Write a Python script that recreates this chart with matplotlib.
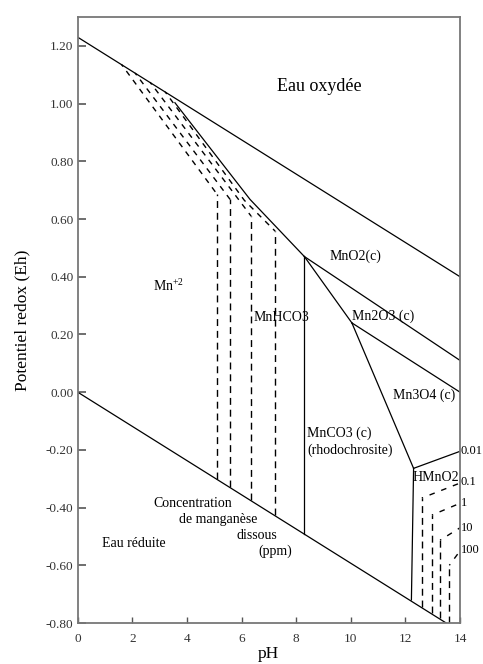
import matplotlib
import matplotlib.pyplot as plt

matplotlib.use("Agg")

plt.rcParams["font.family"] = ["Liberation Serif", "DejaVu Serif"]
plt.rcParams["mathtext.fontset"] = "custom"
plt.rcParams["mathtext.rm"] = "Liberation Serif"

# water stability limits
water_ph = [0, 14]
upper_eh = [1.23, 0.40]
lower_eh = [0.0, -0.83]

# solid phase boundaries (pH, Eh)
mno2_ph = [3.56, 6.31, 8.3]
mno2_eh = [1.003, 0.668, 0.47]
mnco3_left_ph = [8.3, 8.3]
mnco3_left_eh = [0.47, -0.49]
mno2_mn2o3_ph = [8.3, 14]
mno2_mn2o3_eh = [0.47, 0.11]
mnco3_mn2o3_ph = [8.3, 10.04]
mnco3_mn2o3_eh = [0.47, 0.24]
mn2o3_mn3o4_ph = [10.04, 14]
mn2o3_mn3o4_eh = [0.24, 0.0]
mnco3_mn3o4_ph = [10.04, 12.3]
mnco3_mn3o4_eh = [0.24, -0.264]
hmno2_top_ph = [12.3, 14]
hmno2_top_eh = [-0.264, -0.205]
hmno2_left_ph = [12.3, 12.22]
hmno2_left_eh = [-0.264, -0.72]

# dissolved Mn2+ concentration contours (dashed)
mn2_diag = [
    ([1.6, 5.11], [1.136, 0.685]),
    ([2.1, 5.58], [1.106, 0.668]),
    ([2.65, 6.35], [1.074, 0.61]),
    ([3.2, 6.1, 7.23], [1.041, 0.665, 0.558]),
]
mn2_vert_ph = [5.11, 5.58, 6.35, 7.23]
mn2_vert_top = [0.685, 0.668, 0.61, 0.558]
mn2_vert_bot = [-0.30, -0.33, -0.375, -0.427]

# HMnO2- concentration contours (dashed)
hm_vert_ph = [12.6, 12.97, 13.27, 13.61]
hm_vert_top = [-0.367, -0.426, -0.513, -0.60]
hm_vert_bot = [-0.743, -0.765, -0.783, -0.80]
hm_edge_eh = [-0.315, -0.385, -0.47, -0.55]

conc_labels = ["0.01", "0.1", "1", "10", "100"]
conc_label_eh = [-0.205, -0.31, -0.385, -0.472, -0.548]

fig = plt.figure(figsize=(4.83, 6.64), dpi=100)
ax = fig.add_axes([0.1609, 0.0617, 0.7915, 0.9127])

LW = 0.9
DASH = (0, (5, 3.5))

ax.plot(water_ph, upper_eh, color="black", lw=LW)
ax.plot(water_ph, lower_eh, color="black", lw=LW)
for xs, ys in [
    (mno2_ph, mno2_eh),
    (mnco3_left_ph, mnco3_left_eh),
    (mno2_mn2o3_ph, mno2_mn2o3_eh),
    (mnco3_mn2o3_ph, mnco3_mn2o3_eh),
    (mn2o3_mn3o4_ph, mn2o3_mn3o4_eh),
    (mnco3_mn3o4_ph, mnco3_mn3o4_eh),
    (hmno2_top_ph, hmno2_top_eh),
    (hmno2_left_ph, hmno2_left_eh),
]:
    ax.plot(xs, ys, color="black", lw=LW)

for xs, ys in mn2_diag:
    ax.plot(xs, ys, color="black", lw=1.0, linestyle=(2, (4, 4)))
for p, top, bot in zip(mn2_vert_ph, mn2_vert_top, mn2_vert_bot):
    ax.plot([p, p], [bot, top], color="black", lw=1.0, linestyle=DASH)

for p, top, bot, edge in zip(hm_vert_ph, hm_vert_top, hm_vert_bot, hm_edge_eh):
    ax.plot([p, p], [bot, top], color="black", lw=1.0, linestyle=DASH)
    ax.plot([p, 14], [top, edge], color="black", lw=1.0, linestyle=(3, (4, 5)))

for lab, e in zip(conc_labels, conc_label_eh):
    ax.text(14.03, e, lab, fontsize=9, ha="left", va="center", clip_on=False)

# region labels
ax.text(8.83, 1.06, "Eau oxydée", fontsize=13, ha="center", va="center")
ax.text(2.76, 0.37, r"Mn$^{+2}$", fontsize=10, ha="left", va="center")
ax.text(6.43, 0.258, "MnHCO3", fontsize=10, ha="left", va="center")
ax.text(9.24, 0.47, "MnO2(c)", fontsize=10, ha="left", va="center")
ax.text(10.05, 0.262, "Mn2O3 (c)", fontsize=10, ha="left", va="center")
ax.text(11.55, -0.01, "Mn3O4 (c)", fontsize=10, ha="left", va="center")
ax.text(8.4, -0.142, "MnCO3 (c)", fontsize=10, ha="left", va="center")
ax.text(8.4, -0.20, "(rhodochrosite)", fontsize=10, ha="left", va="center")
ax.text(12.25, -0.295, "HMnO2", fontsize=10, ha="left", va="center")
ax.text(4.2, -0.385, "Concentration", fontsize=10, ha="center", va="center")
ax.text(5.15, -0.44, "de manganèse", fontsize=10, ha="center", va="center")
ax.text(6.57, -0.496, "dissous", fontsize=10, ha="center", va="center")
ax.text(7.23, -0.55, "(ppm)", fontsize=10, ha="center", va="center")
ax.text(2.07, -0.524, "Eau réduite", fontsize=10, ha="center", va="center")

ax.set_xlim(0, 14)
ax.set_ylim(-0.80, 1.30)
ax.set_xticks([0, 2, 4, 6, 8, 10, 12, 14])
ax.set_yticks([1.20, 1.00, 0.80, 0.60, 0.40, 0.20, 0.00, -0.20, -0.40, -0.60, -0.80])
ax.set_yticklabels([f"{v:.2f}" for v in ax.get_yticks()])
ax.tick_params(axis="y", direction="in", length=6, width=1.2, color="#555",
               labelsize=9.5, labelcolor="#333", pad=3)
ax.tick_params(axis="x", direction="in", length=4.5, width=1.0, color="#555",
               labelsize=9.5, labelcolor="#333", pad=7)
for sp in ax.spines.values():
    sp.set_color("#777")
    sp.set_linewidth(1.3)

ax.set_xlabel("pH", fontsize=12.5, labelpad=1)
ax.set_ylabel("Potentiel redox (Eh)", fontsize=12.5, labelpad=11)

fig.savefig("out.png", dpi=100)
